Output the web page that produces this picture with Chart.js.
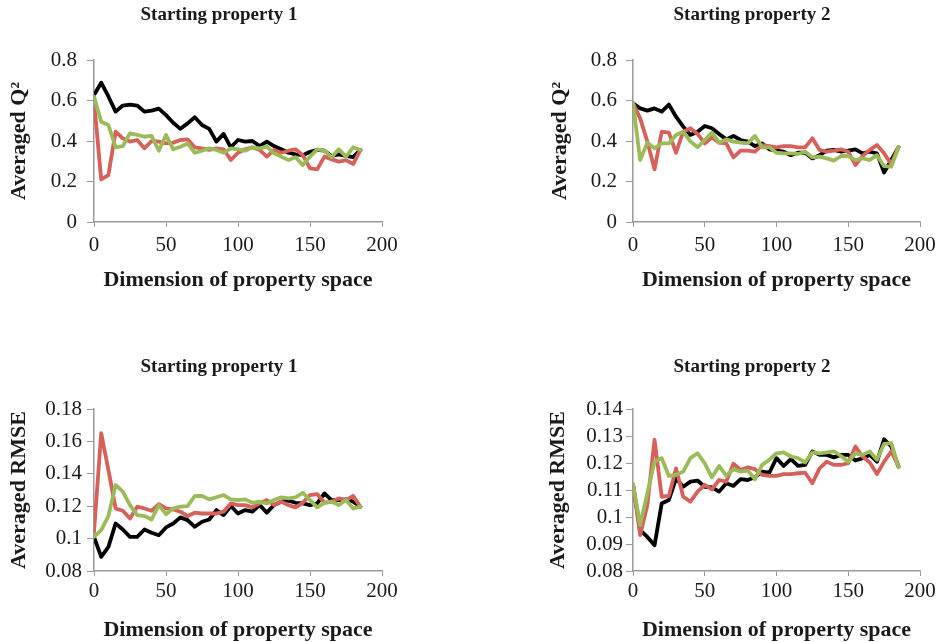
<!DOCTYPE html>
<html>
<head>
<meta charset="utf-8">
<script src="https://cdn.jsdelivr.net/npm/chart.js@4.4.0/dist/chart.umd.min.js"></script>
<style>
html, body { margin: 0; padding: 0; background: #fff; overflow: hidden; width: 942px; height: 642px; }
.panel { position: absolute; height: 321px; }
</style>
</head>
<body>
<div class="panel" style="left:0;top:0"><canvas id="c1"></canvas></div>
<div class="panel" style="left:540px;top:0"><canvas id="c2"></canvas></div>
<div class="panel" style="left:0;top:321px"><canvas id="c3"></canvas></div>
<div class="panel" style="left:540px;top:321px"><canvas id="c4"></canvas></div>
<script>
// dimension of property space (x values)
const dims = [0, 5, 10, 15, 20, 25, 30, 35, 40, 45, 50, 55, 60, 65, 70, 75, 80, 85, 90, 95,
  100, 105, 110, 115, 120, 125, 130, 135, 140, 145, 150, 155, 160, 165, 170, 175, 180, 185];

const xTicks = [0, 50, 100, 150, 200];
const q2Ticks = [0, 0.2, 0.4, 0.6, 0.8];
const rmseTicks1 = [0.08, 0.1, 0.12, 0.14, 0.16, 0.18];
const rmseTicks2 = [0.08, 0.09, 0.1, 0.11, 0.12, 0.13, 0.14];

// Averaged Q2, starting property 1
const q2Black1 = [0.627, 0.688, 0.62, 0.545, 0.575, 0.58, 0.575, 0.545, 0.55, 0.56, 0.528, 0.49, 0.46, 0.487, 0.517, 0.479, 0.46, 0.397, 0.435, 0.369,
  0.405, 0.397, 0.4, 0.375, 0.397, 0.375, 0.359, 0.342, 0.334, 0.33, 0.347, 0.356, 0.352, 0.326, 0.334, 0.326, 0.32, 0.356];
const q2Red1 = [0.6, 0.21, 0.232, 0.446, 0.413, 0.397, 0.405, 0.364, 0.4, 0.397, 0.388, 0.392, 0.405, 0.408, 0.369, 0.364, 0.356, 0.364, 0.359, 0.306,
  0.342, 0.359, 0.369, 0.356, 0.323, 0.356, 0.342, 0.352, 0.359, 0.33, 0.265, 0.26, 0.323, 0.309, 0.298, 0.306, 0.286, 0.356];
const q2Green1 = [0.62, 0.495, 0.479, 0.369, 0.375, 0.438, 0.43, 0.421, 0.425, 0.352, 0.43, 0.359, 0.372, 0.388, 0.342, 0.352, 0.364, 0.356, 0.342, 0.364,
  0.359, 0.352, 0.369, 0.364, 0.372, 0.339, 0.323, 0.306, 0.32, 0.281, 0.323, 0.359, 0.352, 0.32, 0.359, 0.323, 0.369, 0.356];

// Averaged Q2, starting property 2
const q2Black2 = [0.586, 0.561, 0.55, 0.561, 0.545, 0.58, 0.52, 0.471, 0.43, 0.446, 0.474, 0.463, 0.435, 0.408, 0.425, 0.405, 0.397, 0.375, 0.388, 0.359,
  0.352, 0.347, 0.33, 0.342, 0.342, 0.314, 0.33, 0.352, 0.356, 0.347, 0.352, 0.359, 0.339, 0.347, 0.339, 0.244, 0.306, 0.369];
const q2Red2 = [0.586, 0.512, 0.397, 0.26, 0.446, 0.441, 0.342, 0.446, 0.463, 0.435, 0.388, 0.418, 0.392, 0.388, 0.319, 0.352, 0.352, 0.347, 0.38, 0.375,
  0.369, 0.375, 0.375, 0.369, 0.369, 0.413, 0.356, 0.347, 0.352, 0.359, 0.347, 0.281, 0.326, 0.356, 0.38, 0.339, 0.286, 0.369];
const q2Green2 = [0.586, 0.306, 0.392, 0.364, 0.388, 0.388, 0.43, 0.446, 0.397, 0.369, 0.405, 0.441, 0.392, 0.408, 0.397, 0.392, 0.388, 0.425, 0.369, 0.369,
  0.342, 0.339, 0.339, 0.336, 0.347, 0.319, 0.323, 0.314, 0.303, 0.326, 0.326, 0.306, 0.314, 0.306, 0.33, 0.276, 0.273, 0.369];

// Averaged RMSE, starting property 1
const rmseBlack1 = [0.1011, 0.0887, 0.0949, 0.1093, 0.1056, 0.1011, 0.1011, 0.1056, 0.1036, 0.1021, 0.1069, 0.1093, 0.1131, 0.1114, 0.1073, 0.1104, 0.1118, 0.1176, 0.1145, 0.1201,
  0.1155, 0.1176, 0.1166, 0.1207, 0.116, 0.1207, 0.1228, 0.1234, 0.1221, 0.1217, 0.1207, 0.1217, 0.1279, 0.1238, 0.1238, 0.1242, 0.1228, 0.1197];
const rmseRed1 = [0.1042, 0.1651, 0.1424, 0.1186, 0.1172, 0.1124, 0.1197, 0.1186, 0.1172, 0.1213, 0.1186, 0.118, 0.1166, 0.1139, 0.116, 0.1155, 0.1155, 0.1155, 0.1166, 0.1217,
  0.1207, 0.1207, 0.1193, 0.1217, 0.1238, 0.1207, 0.1228, 0.1207, 0.1193, 0.1221, 0.1269, 0.1275, 0.1221, 0.1228, 0.1248, 0.1238, 0.1263, 0.1197];
const rmseGreen1 = [0.1011, 0.1052, 0.1139, 0.1331, 0.129, 0.1207, 0.1145, 0.1139, 0.1118, 0.1207, 0.1151, 0.1186, 0.1197, 0.1201, 0.1263, 0.1263, 0.1242, 0.1255, 0.1269, 0.1242,
  0.1238, 0.1242, 0.1221, 0.1228, 0.1217, 0.1238, 0.1255, 0.1248, 0.1255, 0.1283, 0.1238, 0.1193, 0.1221, 0.1228, 0.1207, 0.1238, 0.1186, 0.1197];

// Averaged RMSE, starting property 2
const rmseBlack2 = [0.112, 0.0951, 0.0926, 0.0895, 0.105, 0.1063, 0.1143, 0.1112, 0.1131, 0.1135, 0.1112, 0.111, 0.1094, 0.1125, 0.1115, 0.114, 0.1137, 0.1147, 0.1168, 0.1164,
  0.1218, 0.1189, 0.1214, 0.1189, 0.1193, 0.1243, 0.123, 0.123, 0.1221, 0.123, 0.123, 0.1209, 0.1218, 0.123, 0.1205, 0.1288, 0.1261, 0.1187];
const rmseRed2 = [0.112, 0.0933, 0.1044, 0.1286, 0.1075, 0.1078, 0.118, 0.1075, 0.1057, 0.1094, 0.1119, 0.1102, 0.1137, 0.1131, 0.1197, 0.1174, 0.1184, 0.1177, 0.1156, 0.1152,
  0.1152, 0.1159, 0.1159, 0.1162, 0.1164, 0.1125, 0.118, 0.1205, 0.1193, 0.1193, 0.1199, 0.1261, 0.1224, 0.1202, 0.1159, 0.1205, 0.1243, 0.1187];
const rmseGreen2 = [0.1122, 0.097, 0.1088, 0.1205, 0.1218, 0.1152, 0.1156, 0.1168, 0.1218, 0.1236, 0.1199, 0.1147, 0.1189, 0.1152, 0.1177, 0.1168, 0.1172, 0.114, 0.1193, 0.1212,
  0.1236, 0.1239, 0.1224, 0.1218, 0.1202, 0.1239, 0.1236, 0.1239, 0.1243, 0.1226, 0.1205, 0.1236, 0.123, 0.1243, 0.1212, 0.1271, 0.1274, 0.1184];

const BLACK = '#000000';
const RED = '#d6605a';
const GREEN = '#9bbb59';
const AXIS = '#9a9a9a';
const TEXT = '#1a1a1a';

Chart.defaults.font.family = "'Liberation Serif', 'Times New Roman', serif";
Chart.defaults.color = TEXT;

function fmt(v) { return String(+v.toFixed(3)); }

// chart area and text positions are in canvas coordinates;
// the canvas is 2*titleX wide so the centred chart title lands on titleX
function makePanel(p) {
  const W = 2 * p.titleX, H = 321;
  const canvas = document.getElementById(p.id);
  canvas.width = W; canvas.height = H;
  const titleFont = { size: 19, weight: 'bold', lineHeight: 1.2 };
  const axisFont = { size: 22, weight: 'bold', lineHeight: 1.2 };
  const tlh = titleFont.size * 1.2, alh = axisFont.size * 1.2;
  const line = (data, color) => ({
    data: dims.map((d, i) => ({ x: d, y: data[i] })),
    borderColor: color, borderWidth: 3.8, pointRadius: 0, tension: 0,
    borderJoinStyle: 'round', borderCapStyle: 'round'
  });
  new Chart(canvas, {
    type: 'line',
    data: {
      datasets: [line(p.green, GREEN), line(p.red, RED), line(p.black, BLACK)]
    },
    options: {
      responsive: false,
      animation: false,
      layout: { padding: 0 },
      plugins: {
        legend: { display: false },
        tooltip: { enabled: false },
        title: {
          display: true, text: p.title, color: TEXT, font: titleFont,
          padding: { top: p.titleY - tlh / 2, bottom: p.area.top - p.titleY - tlh / 2 }
        }
      },
      scales: {
        x: {
          type: 'linear', min: 0, max: 200,
          afterBuildTicks: s => { s.ticks = xTicks.map(v => ({ value: v })); },
          afterFit: s => { s.height = H - p.area.bottom; },
          grid: { drawOnChartArea: false, drawTicks: true, tickLength: 5, color: AXIS },
          border: { color: AXIS, width: 1.5 },
          ticks: { padding: p.xPad, font: { size: 21 }, color: TEXT, maxRotation: 0, autoSkip: false },
          title: {
            display: true, text: 'Dimension of property space', color: TEXT, font: axisFont,
            padding: { top: 0, bottom: H - p.xTitleY - alh / 2 }
          }
        },
        y: {
          type: 'linear', min: p.yTicks[0], max: p.yTicks[p.yTicks.length - 1],
          afterBuildTicks: s => { s.ticks = p.yTicks.map(v => ({ value: v })); },
          afterFit: s => { s.width = p.area.left; },
          grid: { drawOnChartArea: false, drawTicks: true, tickLength: 7, color: AXIS },
          border: { color: AXIS, width: 1.5 },
          ticks: { padding: p.yPad, font: { size: 21 }, color: TEXT, autoSkip: false, callback: v => fmt(v) },
          title: {
            display: true, text: p.yTitle, color: TEXT, font: axisFont,
            padding: { top: p.yTitleX - alh / 2, bottom: 0 }
          }
        },
        // empty strip right of the plot, so the title box is wider than the plot
        gap: {
          type: 'linear', position: 'right', display: true,
          grid: { display: false }, border: { display: false }, ticks: { display: false },
          afterFit: s => { s.width = W - p.area.right; }
        }
      }
    }
  });
}

makePanel({ id: 'c1', title: 'Starting property 1', yTitle: 'Averaged Q²',
  black: q2Black1, red: q2Red1, green: q2Green1, yTicks: q2Ticks,
  area: { left: 94, right: 382, top: 60, bottom: 222 },
  titleX: 219, titleY: 15, yTitleX: 19, xTitleY: 280, yPad: 10, xPad: 6 });

makePanel({ id: 'c2', title: 'Starting property 2', yTitle: 'Averaged Q²',
  black: q2Black2, red: q2Red2, green: q2Green2, yTicks: q2Ticks,
  area: { left: 93, right: 380, top: 60, bottom: 222 },
  titleX: 212, titleY: 15, yTitleX: 20, xTitleY: 280, yPad: 9, xPad: 6 });

makePanel({ id: 'c3', title: 'Starting property 1', yTitle: 'Averaged RMSE',
  black: rmseBlack1, red: rmseRed1, green: rmseGreen1, yTicks: rmseTicks1,
  area: { left: 94, right: 382, top: 88, bottom: 250 },
  titleX: 219, titleY: 46, yTitleX: 19, xTitleY: 309, yPad: 5, xPad: 3 });

makePanel({ id: 'c4', title: 'Starting property 2', yTitle: 'Averaged RMSE',
  black: rmseBlack2, red: rmseRed2, green: rmseGreen2, yTicks: rmseTicks2,
  area: { left: 93, right: 380, top: 88, bottom: 250 },
  titleX: 212, titleY: 46, yTitleX: 18, xTitleY: 309, yPad: 3, xPad: 3 });
</script>
</body>
</html>
